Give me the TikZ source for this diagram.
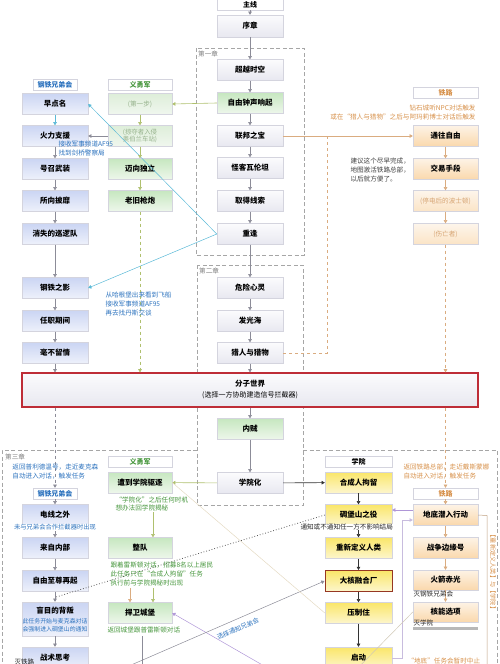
\documentclass[tikz,border=0pt]{standalone}
\usepackage{fontspec}
\setmainfont{Noto Sans CJK SC}
\usetikzlibrary{arrows.meta}
\definecolor{bd}{RGB}{212,212,222}
\definecolor{cgray}{RGB}{140,140,152}
\definecolor{ccyan}{RGB}{90,185,215}
\definecolor{colive}{RGB}{175,192,110}
\definecolor{ctan}{RGB}{218,172,128}
\definecolor{cpurple}{RGB}{175,150,215}
\definecolor{clpurple}{RGB}{200,188,222}
\definecolor{cfaint}{RGB}{228,218,195}
\definecolor{tblue}{RGB}{45,115,190}
\definecolor{tgreen}{RGB}{70,150,60}
\definecolor{torange}{RGB}{215,145,75}
\definecolor{tfade}{RGB}{150,178,140}
\definecolor{tofade}{RGB}{215,165,115}
\definecolor{mtop}{RGB}{251,251,253}
\definecolor{mbot}{RGB}{232,232,240}
\definecolor{btop}{RGB}{203,213,243}
\definecolor{bbot}{RGB}{238,241,251}
\definecolor{gtop}{RGB}{198,231,192}
\definecolor{gbot}{RGB}{238,247,235}
\definecolor{gftop}{RGB}{222,238,218}
\definecolor{gfbot}{RGB}{240,247,238}
\definecolor{otop}{RGB}{253,243,230}
\definecolor{obot}{RGB}{250,216,172}
\definecolor{oftop}{RGB}{253,245,235}
\definecolor{ofbot}{RGB}{251,228,198}
\definecolor{ytop}{RGB}{250,230,105}
\definecolor{ybot}{RGB}{253,246,205}
\definecolor{redb}{RGB}{190,45,55}
\definecolor{brownb}{RGB}{150,55,35}
\tikzset{
 bx/.style={minimum height=21pt, inner sep=1pt, font=\bfseries\fontsize{7.5}{9}\selectfont, align=center, draw=bd, line width=0.4pt},
 mb/.style={bx, minimum width=66pt, top color=mtop, bottom color=mbot},
 bb/.style={bx, minimum width=66pt, top color=btop, bottom color=bbot},
 gb/.style={bx, minimum width=64pt, top color=gtop, bottom color=gbot},
 gfb/.style={bx, minimum width=64pt, top color=gftop, bottom color=gfbot, text=tfade, font=\fontsize{6.6}{8}\selectfont},
 ob/.style={bx, minimum width=65pt, top color=otop, bottom color=obot},
 ofb/.style={bx, minimum width=65pt, top color=oftop, bottom color=ofbot, text=tofade, font=\fontsize{6.6}{8}\selectfont},
 yb/.style={bx, minimum width=67pt, top color=ytop, bottom color=ybot},
 hd/.style={draw=bd, fill=white, minimum height=11pt, inner sep=0.5pt, font=\bfseries\fontsize{7}{8}\selectfont},
 ann/.style={font=\fontsize{6.6}{9}\selectfont, align=left, inner sep=0.3pt},
 ar/.style={-{Triangle[width=3.6pt,length=3.2pt]}, line width=0.6pt},
 chap/.style={draw=black!35, dash pattern=on 4pt off 2.5pt, line width=0.6pt},
 chl/.style={font=\fontsize{6.6}{8}\selectfont, text=black!50, inner sep=0},
}
\begin{document}
\begin{tikzpicture}[x=1pt,y=-1pt]
\useasboundingbox (0,0) rectangle (500,664);
% chapter frames
\draw[chap] (196,48) rectangle (304,255);
\node[chl, anchor=west] (l1) at (198,54) {第一章};
\draw[chap] (197,265) rectangle (303,505);
\node[chl, anchor=west] (l2) at (199,271) {第二章};
\draw[chap] (197,450) -- (2,450) -- (2,680);
\draw[chap] (303,450) -- (497,450) -- (497,680);
\node[chl, anchor=west] (l3) at (5,457) {第三章};

% main line
\node[hd, minimum width=66pt] (zx) at (250,4.5) {主线};
\node[mb, minimum height=22pt] (xz) at (250,26) {序章};
\node[mb] (c1) at (250,70) {超越时空};
\node[gb, minimum width=66pt] (c2) at (250,103) {自由钟声响起};
\node[mb] (c3) at (250,136) {联邦之宝};
\node[mb] (c4) at (250,168) {怪客瓦伦坦};
\node[mb] (c5) at (250,201) {取得线索};
\node[mb] (c6) at (250,234) {重逢};
\node[mb] (c7) at (250,288) {危险心灵};
\node[mb] (c8) at (250,321) {发光海};
\node[mb] (c9) at (250,353) {猎人与猎物};
\node[draw=redb, line width=1.2pt, top color=mtop, bottom color=mbot, minimum width=456pt, minimum height=34pt, align=center, inner sep=1pt, font=\fontsize{7}{11}\selectfont] (fz) at (250,390) {{\bfseries\fontsize{7.5}{11}\selectfont 分子世界}\\(选择一方协助建造信号拦截器)};
\node[gb, minimum width=66pt] (nz) at (250,429) {内贼};
\node[mb] (xyh) at (250,483) {学院化};

% BoS
\node[hd, minimum width=44pt, text=tblue] (bh1) at (55,85) {钢铁兄弟会};
\node[bb] (b1) at (55,104) {早点名};
\node[bb] (b2) at (55,136) {火力支援};
\node[bb] (b3) at (55,169) {号召武装};
\node[bb] (b4) at (55,201) {所向披靡};
\node[bb] (b5) at (55,234) {消失的巡逻队};
\node[bb] (b6) at (55,288) {钢铁之影};
\node[bb] (b7) at (55,321) {任职期间};
\node[bb] (b8) at (55,353) {毫不留情};

% Minutemen
\node[hd, minimum width=64pt, text=tgreen] (mh1) at (140,85) {义勇军};
\node[gfb] (m1) at (140,104) {(第一步)};
\node[gfb, font=\fontsize{6.4}{7.5}\selectfont] (m2) at (140,136) {(掠夺者入侵\\奥伯兰车站)};
\node[gb] (m3) at (140,169) {迈向独立};
\node[gb] (m4) at (140,201) {老旧枪炮};

% Railroad
\node[hd, minimum width=65pt, text=torange] (rh1) at (445.5,92.5) {铁路};
\node[ob] (r1) at (445.5,136) {通往自由};
\node[ob] (r2) at (445.5,169) {交易手段};
\node[ofb] (r3) at (445.5,201) {(停电后的波士顿)};
\node[ofb] (r4) at (445.5,234) {(伤亡者)};

% Chapter 3 BoS
\node[hd, minimum width=44pt, text=tblue] (bh2) at (55,493.5) {钢铁兄弟会};
\node[bb] (d1) at (55,515) {电线之外};
\node[bb] (d2) at (55,548) {来自内部};
\node[bb] (d3) at (55,581) {自由至尊再起};
\node[bb, minimum height=34pt] (d4) at (55,619) {};
\node[bb, minimum height=22pt] (d5) at (55,658) {战术思考};

% Chapter 3 Minutemen
\node[hd, minimum width=64pt, text=tgreen] (mh2) at (140,462) {义勇军};
\node[gb] (m5) at (140,482.5) {遭到学院驱逐};
\node[gb] (m6) at (140,548) {整队};
\node[gb] (m7) at (140,613) {捍卫城堡};

% Institute
\node[hd, minimum width=67pt] (ih) at (358.5,462) {学院};
\node[yb] (i1) at (358.5,482.5) {合成人拘留};
\node[yb] (i2) at (358.5,515) {碉堡山之役};
\node[yb] (i3) at (358.5,548) {重新定义人类};
\node[yb, draw=brownb, line width=1pt] (i4) at (358.5,581) {大核融合厂};
\node[yb] (i5) at (358.5,613) {压制住};
\node[yb, minimum height=22pt] (i6) at (358.5,658) {启动};

% Chapter 3 Railroad
\node[hd, minimum width=65pt, text=torange] (rh2) at (445.5,493.5) {铁路};
\node[ob] (r5) at (445.5,515) {地底潜入行动};
\node[ob] (r6) at (445.5,548) {战争边缘号};
\node[ob, minimum height=20pt] (r7) at (445.5,580) {火箭赤光};
\node[ob, minimum height=20pt] (r8) at (445.5,612) {核能选项};
\fill[black!28] (413,627) rectangle (478,630);

% coordinates
\coordinate (k1) at (327,353);
\coordinate (k2) at (327,136);
\coordinate (q1) at (153,512);
\coordinate (q2) at (130,588);
\coordinate (q3) at (153,588);
\coordinate (q4) at (142,636);
\coordinate (q5) at (142,668);
\coordinate (q6) at (285,678);
\coordinate (q7) at (115,672);
\coordinate (q8) at (56,597);
\coordinate (q9) at (402,658);
\coordinate (q10) at (402,520);
\coordinate (q11) at (350,676);
\coordinate (q12) at (487,515.5);
\coordinate (q13) at (487,668);

% main connectors
\draw[ar, cgray] (zx) -- (xz);
\draw[ar, cgray] (xz) -- (c1);
\draw[ar, cgray] (c1) -- (c2);
\draw[ar, cgray] (c2) -- (c3);
\draw[ar, cgray] (c3) -- (c4);
\draw[ar, cgray] (c4) -- (c5);
\draw[ar, cgray] (c5) -- (c6);
\draw[ar, cgray] (c6) -- (c7);
\draw[ar, cgray] (c7) -- (c8);
\draw[ar, cgray] (c8) -- (c9);
\draw[ar, cgray] (c9.south) -- (c9.south |- fz.north);
\draw[ar, cgray] (nz.north |- fz.south) -- (nz);
\draw[ar, cgray] (nz) -- (xyh);

% BoS connectors
\draw[ar, ccyan] (b1) -- (b2);
\draw[ar, cgray] (b2) -- (b3);
\draw[ar, cgray] (b3) -- (b4);
\draw[ar, cgray] (b4) -- (b5);
\draw[ar, cgray] (b5) -- (b6);
\draw[ar, cgray] (b6) -- (b7);
\draw[ar, cgray] (b7) -- (b8);
\draw[ar, cgray] (b8.south) -- (b8.south |- fz.north);
\draw[ar, cgray, dashed] (bh2.north |- fz.south) -- (bh2);
\draw[ar, ccyan, line width=0.5pt] (c6.west) -- (b1.east);
\draw[ar, ccyan, line width=0.5pt] (c6.west) -- (b6.east);

% Minutemen connectors
\draw[ar, colive] (c2.west) -- (m1.east);
\draw[ar, colive] (m1) -- (m2);
\draw[ar, colive] (m2) -- (m3);
\draw[ar, colive] (m3) -- (m4);
\draw[ar, cgray] (m2.west) -- (b2.east);
\draw[ar, colive, dashed] (m4.south) -- (m4.south |- fz.north);

% Railroad connectors
\draw[ar, ctan] (c3.east) -- (r1.west);
\draw[ctan, dashed, line width=0.6pt] (c9.east) -- (k1) -- (k2);
\draw[ar, ctan] (r1) -- (r2);
\draw[ar, ctan] (r2) -- (r3);
\draw[ar, ctan] (r3) -- (r4);
\draw[ar, ctan, dashed] (r4.south) -- (r4.south |- fz.north);
\draw[ar, ctan, dashed] (rh2.north |- fz.south) -- (rh2);

% chapter 3 connectors
\draw[ar, black!80] (xyh) -- (i1);
\draw[ar, colive] (xyh) -- (m5);
\draw[ar, black!80] (i1) -- (i2);
\draw[ar, black!80] (i2) -- (i3);
\draw[ar, black!80] (i3) -- (i4);
\draw[ar, black!80] (i4) -- (i5);
\draw[ar, black!80] (i5) -- (i6);
\draw[ar, cgray] (bh2) -- (d1);
\draw[ar, cgray] (d1) -- (d2);
\draw[ar, cgray] (d2) -- (d3);
\draw[ar, cgray] (d3) -- (d4);
\draw[ar, cgray] (d4) -- (d5);
\draw[ar, ctan] (rh2) -- (r5);
\draw[ar, ctan] (r5) -- (r6);
\draw[ar, ctan] (r6) -- (r7);
\draw[ar, ctan] (r7) -- (r8);
\draw[ar, colive] (q1) -- (q1 |- m6.north);
\draw[ar, ctan] (q2) -- (q2 |- m7.north);
\draw[ar, colive] (q3) -- (q3 |- m7.north);
\draw[cgray, line width=0.5pt] (q4) -- (q5);
\draw[ar, cpurple, line width=0.5pt] (q6) -- (m7.east);
\draw[ar, cgray, line width=0.5pt] (q7) -- (i4.west);
\draw[cfaint, line width=0.5pt] (m5.east) -- (i5.west);
\draw[black!65, dotted, line width=0.8pt] (i2.west) -- (q8);
\draw[ar, cpurple, line width=0.5pt] ([yshift=5pt]r5.west) -- ([yshift=5pt]i2.east);
\draw[ar, clpurple, line width=0.5pt] (i6.east) -- (q9) -- (q10) -- ([yshift=-5pt]r5.west);
\draw[cfaint!80!gray, line width=0.5pt] (q11) -- (r8.west);
\draw[ctan!70!gray, line width=0.5pt] (r5.east) -- (q12) -- (q13);

% annotations
\node[ann, text=tblue, anchor=west] (a1) at (58,148.5) {接收军事频道AF95\\找到剑桥警察局};
\node[ann, text=tblue, anchor=west] (a2) at (105,304) {从哈根堡出来看到飞船\\接收军事频道AF95\\再去找丹斯交谈};
\node[ann, text=torange, anchor=east, align=right] (a3) at (476,112.5) {钻石城听NPC对话触发\\或在“猎人与猎物”之后与阿玛莉博士对话后触发};
\node[ann, text=black!75, anchor=west] (a4) at (350,170) {建议这个尽早完成，\\地图激活铁路总部，\\以后就方便了。};
\node[ann, text=tblue, anchor=west] (a5) at (12,471.5) {返回普利德温号，走近麦克森\\自动进入对话，触发任务};
\node[ann, text=tblue, fill=white, font=\fontsize{6.3}{8}\selectfont] (a6) at (55,527.5) {未与兄弟会合作拦截器时出现};
\node[ann, text=torange, anchor=west] (a7) at (403,471.5) {返回铁路总部，走近戴斯蒙娜\\自动进入对话，触发任务};
\node[ann, text=tgreen, anchor=west, fill=white, font=\fontsize{6.6}{8.5}\selectfont] (a8) at (115,504) {“学院化”之后任何时机\\想办法回学院揭秘};
\node[ann, text=tgreen, anchor=west] (a9) at (110,574) {跟着雷斯顿对话，招募8名以上居民\\此任务只在“合成人拘留”任务\\执行前与学院揭秘时出现};
\node[ann, text=tgreen, anchor=west] (a10) at (107,630) {返回城堡跟普雷斯顿对话};
\node[ann, text=black!85, anchor=west, fill=white] (a11) at (300,527) {通知或不通知任一方不影响结局};
\node[ann, text=black!85, anchor=west] (a12) at (413,593.5) {灭钢铁兄弟会};
\node[ann, text=black!85, anchor=west] (a13) at (413,623) {灭学院};
\node[ann, text=black!85, anchor=west] (a14) at (14,662) {灭铁路};
\node[ann, text=torange, anchor=west] (a15) at (407,661) {“地底”任务会暂时中止};
\node[ann, text=torange, rotate=-90, font=\fontsize{6.2}{8}\selectfont] (a16) at (493,572) {【重新定义人类】与【学院】};
\node[ann, text=tblue, rotate=23, font=\fontsize{6.4}{8}\selectfont] (a17) at (238,629) {选择通知兄弟会};
\node[font=\bfseries\fontsize{7.5}{9}\selectfont, inner sep=0] (d4t) at (55,611) {盲目的背叛};
\node[ann, text=tblue, align=center, font=\fontsize{5.9}{8}\selectfont] (d4s) at (55,625) {此任务开始与麦克森对话\\会强制进入碉堡山的通知};
\end{tikzpicture}
\end{document}
